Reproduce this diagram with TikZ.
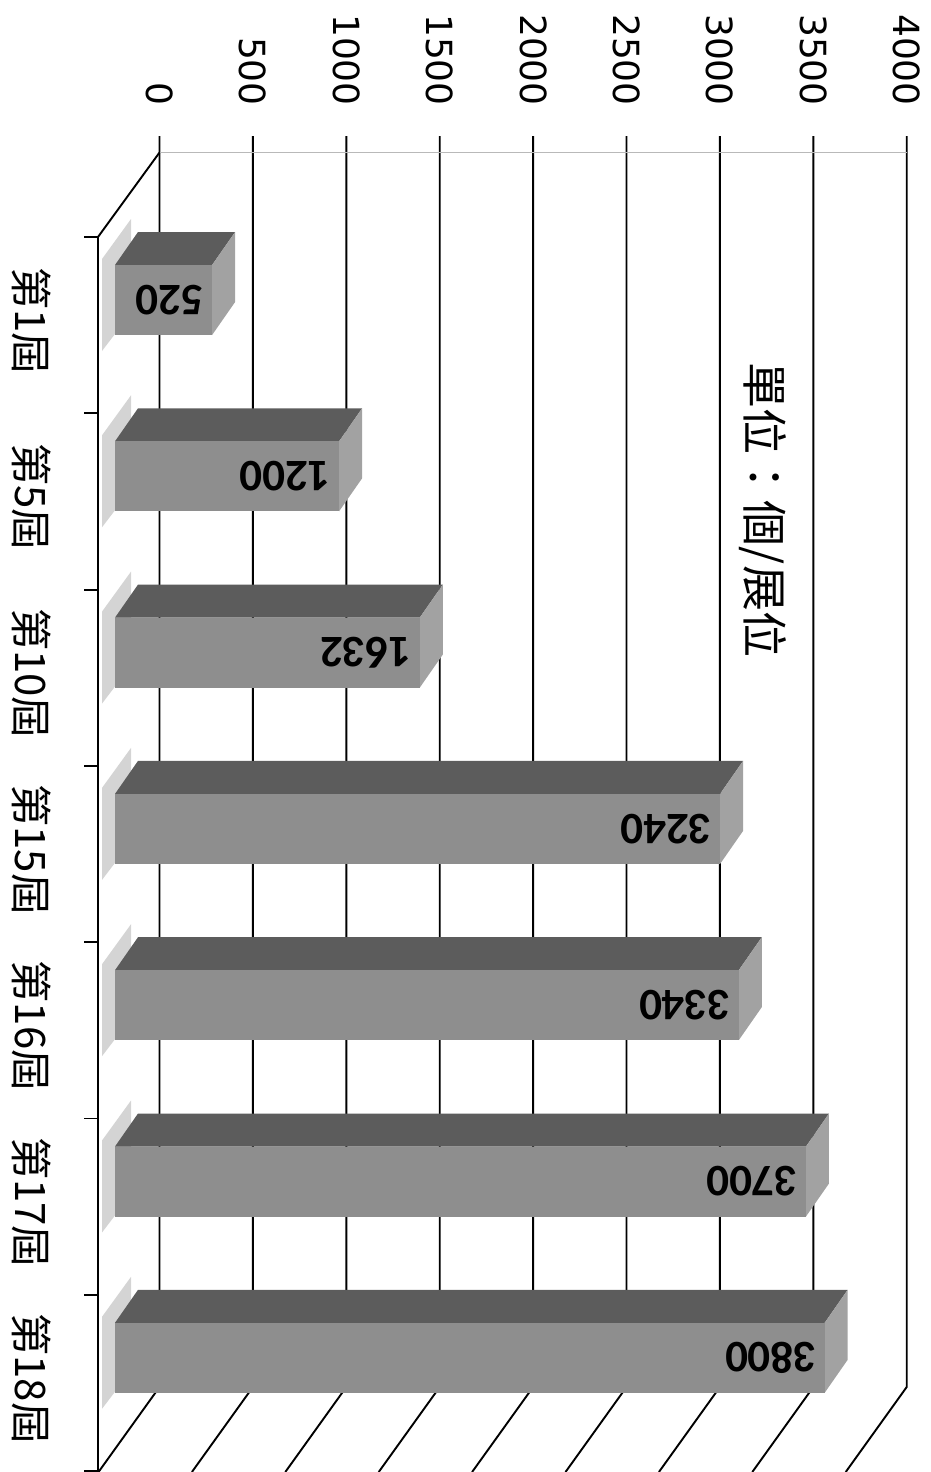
\documentclass[tikz,border=0pt]{standalone}
\usepackage{fontspec}
\setmainfont{DejaVu Sans}
\newfontfamily\cjkfont{Noto Sans CJK TC}
\newfontfamily\barfont{Carlito}
\usepackage{tikz}
\usetikzlibrary{positioning}
\usepackage{xcolor}
\definecolor{barfront}{HTML}{8E8E8E}
\definecolor{bartop}{HTML}{5C5C5C}
\definecolor{barside}{HTML}{A2A2A2}
\definecolor{barshadow}{HTML}{D4D4D4}

\begin{document}
\begin{tikzpicture}[x=1pt,y=-1pt]
  \tikzstyle{grid line}=[black,line width=1.9pt]
  \tikzstyle{wall line}=[gray!55,line width=1.2pt]
  \tikzstyle{tick label}=[rotate=-90,anchor=east,inner sep=0pt,font=\fontsize{36}{36}\selectfont]
  \tikzstyle{cat label}=[rotate=-90,inner sep=0pt,font=\cjkfont\fontsize{42}{42}\selectfont]
  \tikzstyle{unit label}=[rotate=-90,inner sep=0pt,font=\cjkfont\fontsize{46}{46}\selectfont]
  \tikzstyle{value label}=[rotate=180,anchor=west,inner sep=0pt,font=\barfont\bfseries\fontsize{45}{45}\selectfont]

  \useasboundingbox (0,0) rectangle (930,1472);

  \coordinate (wall_top)  at (159.5,152.5);
  \coordinate (floor_top) at (98,237);
  \coordinate (floor_end) at (98,1472);

  \foreach \k in {0,...,8} {
    \pgfmathsetmacro\xg{159.5+93.4*\k}
    \pgfmathtruncatemacro\lab{500*\k}
    \draw[grid line] (\xg,136) -- (\xg,1387) -- (\xg-61,1472);
    \node[tick label] (t_\k) at (\xg,106) {\lab};
  }
  \draw[wall line] (wall_top) -- (907,152.5);
  \draw[grid line] (wall_top) -- (floor_top) -- (floor_end);
  \foreach \k in {0,...,7}
    \draw[grid line] (84,237+176.3*\k) -- (98,237+176.3*\k);

  \foreach \val [count=\i from 0] in {520,1200,1632,3240,3340,3700,3800} {
    \pgfmathsetmacro\yt{265+176.3*\i}
    \pgfmathsetmacro\yb{\yt+70}
    \pgfmathsetmacro\xr{115+0.18675*\val}
    \fill[barshadow] (131,\yt-46) -- (102,\yt-6) -- (102,\yb+16) -- (131,\yb-22) -- cycle;
    \fill[bartop] (115,\yt) -- (138,\yt-33) -- (\xr+23,\yt-33) -- (\xr,\yt) -- cycle;
    \fill[barside] (\xr,\yt) -- (\xr+23,\yt-33) -- (\xr+23,\yb-33) -- (\xr,\yb) -- cycle;
    \fill[barfront] (115,\yt) rectangle (\xr,\yb);
    \node[value label] (v_\i) at (\xr-8,\yt+35) {\val};
  }

  \foreach \lab [count=\i from 0] in {第1屆,第5屆,第10屆,第15屆,第16屆,第17屆,第18屆}
    \node[cat label] (c_\i) at (32,321+176.3*\i) {\lab};

  \node[unit label] (unit) at (763,510) {單位：個/展位};
\end{tikzpicture}
\end{document}
